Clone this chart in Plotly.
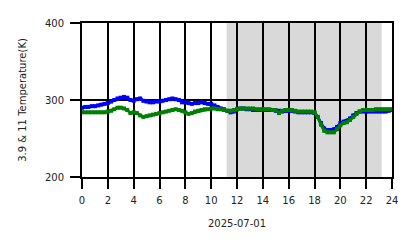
import plotly.graph_objects as go

hours = [i * 0.25 for i in range(97)]

temp_39 = [290, 291, 291, 292, 292, 293, 294, 295, 296, 298, 300, 302, 303, 304, 303, 300,
           299, 301, 302, 299, 298, 297, 297, 298, 298, 299, 300, 301, 302, 301, 300, 297,
           297, 296, 295, 296, 296, 297, 296, 295, 295, 293, 291, 289, 288, 286, 284, 285,
           288, 289, 289, 288, 288, 287, 287, 287, 287, 287, 287, 287, 286, 286, 285, 286,
           286, 286, 285, 284, 284, 284, 284, 284, 283, 278, 270, 263, 261, 261, 262, 265,
           270, 272, 273, 276, 280, 283, 285, 285, 285, 285, 285, 285, 285, 285, 285, 286, 287]

temp_11 = [284, 284, 284, 284, 284, 284, 284, 284, 285, 286, 288, 290, 290, 289, 287, 283,
           284, 283, 280, 278, 279, 280, 281, 282, 283, 284, 285, 286, 287, 288, 287, 286,
           284, 282, 283, 285, 286, 287, 288, 288, 289, 289, 288, 288, 287, 286, 286, 287,
           288, 289, 289, 289, 289, 289, 288, 288, 288, 288, 288, 287, 287, 283, 286, 287,
           287, 287, 286, 285, 285, 285, 285, 285, 284, 278, 268, 260, 258, 258, 258, 262,
           267, 270, 271, 274, 278, 282, 285, 287, 287, 287, 287, 288, 288, 288, 288, 288, 288]

shade_start, shade_end = 11.2, 23.2
x_ticks = list(range(0, 25, 2))
y_ticks = [200, 300, 400]

fig = go.Figure()
fig.add_trace(go.Scatter(x=hours, y=temp_39, mode="lines+markers",
                         line=dict(color="#0000ff", width=3),
                         marker=dict(color="#0000ff", size=4, symbol="square"),
                         showlegend=False))
fig.add_trace(go.Scatter(x=hours, y=temp_11, mode="lines+markers",
                         line=dict(color="#008000", width=3),
                         marker=dict(color="#008000", size=4, symbol="square"),
                         showlegend=False))

fig.add_shape(type="rect", xref="x", yref="paper", x0=shade_start, x1=shade_end,
              y0=0, y1=1, fillcolor="#d9d9d9", line=dict(width=0), layer="below")

fig.update_layout(
    width=418, height=248,
    margin=dict(l=82, r=26, t=23, b=71),
    paper_bgcolor="white", plot_bgcolor="white",
    font=dict(family="DejaVu Sans", size=10, color="#222222"),
)
fig.update_xaxes(range=[0, 24], tickvals=x_ticks, ticktext=[str(v) for v in x_ticks],
                 showgrid=True, gridcolor="black", gridwidth=2,
                 showline=True, linecolor="black", linewidth=2, mirror=True,
                 ticks="outside", ticklen=10, tickwidth=2, tickcolor="black",
                 tickfont=dict(size=10), ticklabelstandoff=3, zeroline=False,
                 title=dict(text="2025-07-01", font=dict(size=10), standoff=15))
fig.update_yaxes(range=[200, 400], tickvals=y_ticks, ticktext=[str(v) for v in y_ticks],
                 showgrid=True, gridcolor="black", gridwidth=2,
                 showline=True, linecolor="black", linewidth=2, mirror=True,
                 ticks="outside", ticklen=10, tickwidth=2, tickcolor="black",
                 tickfont=dict(size=10), ticklabelstandoff=4, zeroline=False,
                 title=dict(text="3.9 & 11 Temperature(K)", font=dict(size=10), standoff=16))

fig.write_html("out.html")
